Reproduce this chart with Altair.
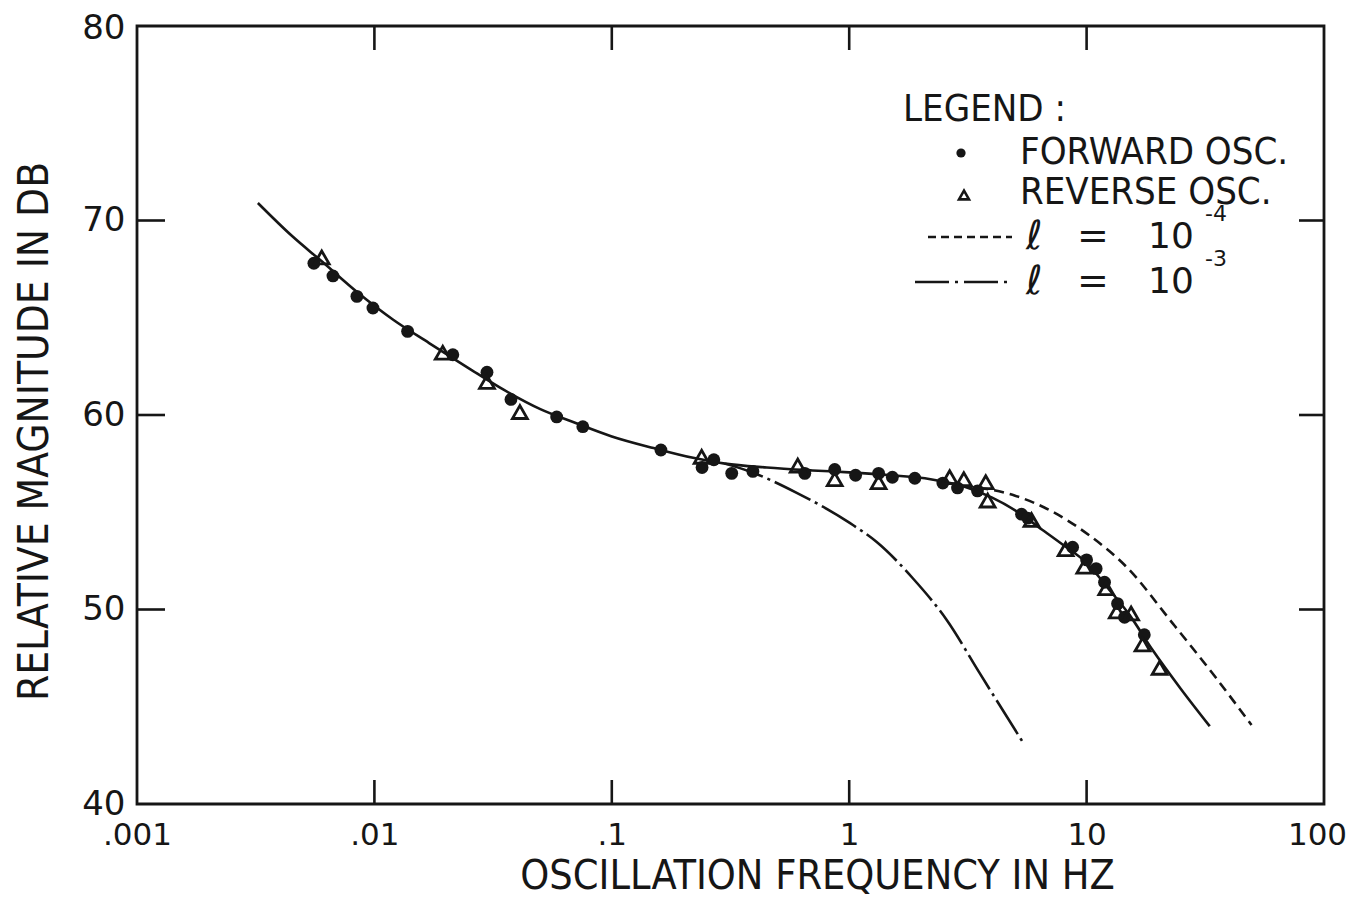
import altair as alt
import pandas as pd

# ---------------- data ----------------
forward_f = [0.00556, 0.00669, 0.00844, 0.00986, 0.0138, 0.0214, 0.0298, 0.0376, 0.0586, 0.0755,
             0.161, 0.24, 0.269, 0.32, 0.393, 0.65, 0.869, 1.064, 1.33, 1.52, 1.89, 2.48, 2.86,
             3.47, 5.32, 5.65, 8.73, 10.0, 10.97, 11.9, 13.5, 14.45, 17.5]
forward_db = [67.8, 67.15, 66.1, 65.5, 64.3, 63.1, 62.2, 60.8, 59.9, 59.4,
              58.2, 57.3, 57.7, 57.0, 57.1, 57.0, 57.2, 56.9, 57.0, 56.8, 56.75, 56.5, 56.25,
              56.1, 54.9, 54.7, 53.2, 52.55, 52.1, 51.4, 50.3, 49.6, 48.7]

reverse_f = [0.0060, 0.0194, 0.0298, 0.041, 0.239, 0.607, 0.869, 1.33, 2.65, 3.04, 3.76, 3.83,
             5.86, 8.16, 9.78, 12.1, 13.4, 15.4, 17.2, 20.3]
reverse_db = [68.1, 63.2, 61.7, 60.15, 57.85, 57.4, 56.7, 56.55, 56.8, 56.7, 56.55, 55.6,
              54.6, 53.1, 52.2, 51.1, 49.9, 49.8, 48.2, 47.0]

fit_f = [0.00323, 0.0045, 0.006, 0.0085, 0.012, 0.017, 0.025, 0.035, 0.05, 0.07, 0.1, 0.15,
         0.22, 0.3, 0.45, 0.7, 1.0, 1.5, 2.2, 3.0, 4.0, 5.0, 6.5, 8.0, 10, 12.5, 15, 19, 25, 33]
fit_db = [70.9, 69.2, 67.9, 66.3, 64.9, 63.7, 62.4, 61.3, 60.3, 59.6, 58.9, 58.3,
          57.8, 57.5, 57.3, 57.15, 57.05, 56.9, 56.7, 56.35, 55.75, 55.1, 54.1, 53.3, 52.4,
          51.0, 49.8, 47.9, 45.9, 44.0]

l4_f = [3.0, 4.0, 5.0, 7.0, 10.3, 14.7, 23, 35, 49.5]
l4_db = [56.35, 56.15, 55.85, 55.1, 53.8, 52.2, 49.3, 46.5, 44.06]

l3_f = [0.3, 0.381, 0.601, 1.005, 1.306, 1.849, 2.575, 3.54, 5.48]
l3_db = [57.5, 57.1, 56.0, 54.45, 53.47, 51.62, 49.46, 46.74, 43.03]

x_ticks = [0.001, 0.01, 0.1, 1, 10, 100]
x_inner_ticks = [0.01, 0.1, 1, 10]
y_ticks = [40, 50, 60, 70, 80]
y_inner_ticks = [50, 60, 70]

# ---------------- styling ----------------
INK = "#161616"
WORD_FONT = "DejaVu Sans Condensed, Liberation Sans Narrow, sans-serif"
NUM_FONT = "DejaVu Sans, sans-serif"
W, H = 1187, 778

xs = alt.Scale(type="log", domain=[0.001, 100], nice=False)
ys = alt.Scale(domain=[40, 80], nice=False, zero=False)

label_expr = ("datum.value < 0.005 ? '.001' : datum.value < 0.05 ? '.01' : "
              "datum.value < 0.5 ? '.1' : datum.value < 5 ? '1' : datum.value < 50 ? '10' : '100'")

xaxis = alt.Axis(values=x_ticks, labelExpr=label_expr, ticks=False, domain=False, grid=False,
                 labelFont=NUM_FONT, labelFontSize=31, labelColor=INK, labelPadding=16,
                 labelOffset={"condition": {"test": "datum.value > 50", "value": -7}, "value": 0},
                 title="OSCILLATION FREQUENCY IN HZ", titleFont=WORD_FONT, titleFontSize=41,
                 titleFontWeight="normal", titleColor=INK, titleX=680, titleY=72,
                 titleBaseline="middle", labelFlush=False)
yaxis = alt.Axis(values=y_ticks, ticks=False, domain=False, grid=False,
                 labelFont=NUM_FONT, labelFontSize=34, labelColor=INK, labelPadding=12,
                 labelOffset={"condition": {"test": "datum.value > 75", "value": 2}, "value": 0},
                 title="RELATIVE MAGNITUDE IN DB", titleFont=WORD_FONT, titleFontSize=42,
                 titleFontWeight="normal", titleColor=INK, titleX=-103, titleY=405,
                 titleBaseline="middle", titleAngle=-90, labelFlush=False)

X = alt.X("f:Q", scale=xs, axis=xaxis)
Y = alt.Y("db:Q", scale=ys, axis=yaxis)

fwd = pd.DataFrame({"f": forward_f, "db": forward_db})
rev = pd.DataFrame({"f": reverse_f, "db": reverse_db})
fit = pd.DataFrame({"f": fit_f, "db": fit_db})
l4 = pd.DataFrame({"f": l4_f, "db": l4_db})
l3 = pd.DataFrame({"f": l3_f, "db": l3_db})
xt = pd.DataFrame({"f": x_inner_ticks})
yt = pd.DataFrame({"db": y_inner_ticks})
one = pd.DataFrame({"k": [0]})

DASH_L4 = [10, 6]
DASH_L3 = [40, 5, 3, 5]

fit_line = alt.Chart(fit).mark_line(color=INK, strokeWidth=2.6, interpolate="monotone").encode(x=X, y=Y)
l4_line = alt.Chart(l4).mark_line(color=INK, strokeWidth=2.6, strokeDash=DASH_L4,
                                   interpolate="monotone").encode(x=X, y=Y)
l3_line = alt.Chart(l3).mark_line(color=INK, strokeWidth=2.6, strokeDash=DASH_L3,
                                   interpolate="monotone").encode(x=X, y=Y)
fwd_pts = alt.Chart(fwd).mark_point(shape="circle", filled=True, color=INK, size=165,
                                    opacity=1).encode(x=X, y=Y)
rev_pts = alt.Chart(rev).mark_point(shape="triangle-up", filled=False, color=INK, size=220,
                                    strokeWidth=2.8, opacity=1).encode(x=X, y=Y)

tick_kw = dict(color=INK, strokeWidth=2.6)
bottom_ticks = alt.Chart(xt).mark_rule(**tick_kw).encode(x=X, y=alt.value(H), y2=alt.value(H - 24))
top_ticks = alt.Chart(xt).mark_rule(**tick_kw).encode(x=X, y=alt.value(0), y2=alt.value(24))
left_ticks = alt.Chart(yt).mark_rule(**tick_kw).encode(y=Y, x=alt.value(0), x2=alt.value(28))
right_ticks = alt.Chart(yt).mark_rule(**tick_kw).encode(y=Y, x=alt.value(W - 25), x2=alt.value(W))


def txt(s, x, y, size=38, font=WORD_FONT, align="left"):
    return alt.Chart(one).mark_text(text=s, font=font, fontSize=size, color=INK, align=align,
                                    baseline="middle").encode(x=alt.value(x), y=alt.value(y))


legend = [
    txt("LEGEND :", 766, 84),
    alt.Chart(one).mark_point(shape="circle", filled=True, color=INK, size=85, opacity=1)
    .encode(x=alt.value(824), y=alt.value(127)),
    txt("FORWARD OSC.", 883, 127),
    alt.Chart(one).mark_point(shape="triangle-up", filled=False, color=INK, size=100,
                              strokeWidth=2.6, opacity=1)
    .encode(x=alt.value(827), y=alt.value(169)),
    txt("REVERSE OSC.", 883, 167),
    alt.Chart(one).mark_rule(color=INK, strokeWidth=2.4, strokeDash=[8, 5])
    .encode(x=alt.value(791), x2=alt.value(875), y=alt.value(211)),
    txt("ℓ", 889, 211, size=40, font=NUM_FONT),
    txt("=", 940, 211, size=38, font=NUM_FONT),
    txt("10", 1011, 211, size=36, font=NUM_FONT),
    txt("-4", 1068, 188, size=22, font=NUM_FONT),
    alt.Chart(one).mark_rule(color=INK, strokeWidth=2.4, strokeDash=[34, 6, 3, 6])
    .encode(x=alt.value(778), x2=alt.value(873), y=alt.value(256)),
    txt("ℓ", 889, 256, size=40, font=NUM_FONT),
    txt("=", 940, 256, size=38, font=NUM_FONT),
    txt("10", 1011, 256, size=36, font=NUM_FONT),
    txt("-3", 1068, 233, size=22, font=NUM_FONT),
]

chart = alt.layer(
    fit_line, l4_line, l3_line, fwd_pts, rev_pts,
    bottom_ticks, top_ticks, left_ticks, right_ticks,
    *legend,
).properties(
    width=W, height=H,
    autosize=alt.AutoSizeParams(type="none"),
    padding={"left": 129, "top": 18, "right": 25, "bottom": 92},
    background="white",
).configure_view(stroke=INK, strokeWidth=2.8)

chart.save("out.html", embed_options={"renderer": "svg", "actions": False})
